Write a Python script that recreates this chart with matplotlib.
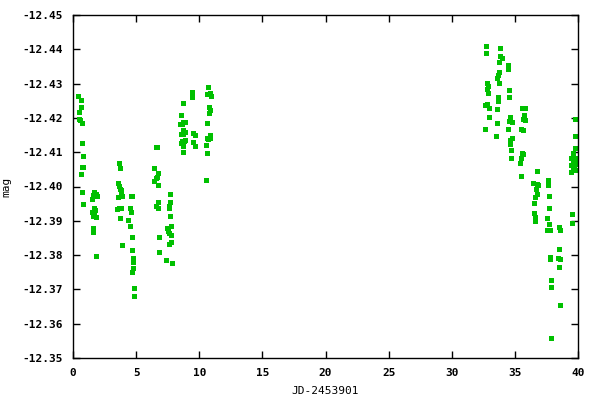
import matplotlib
matplotlib.use("Agg")
import matplotlib.pyplot as plt
from matplotlib.ticker import FormatStrFormatter, MultipleLocator

jd_night1 = [0.42, 0.60, 0.60, 0.47, 0.50, 0.55, 0.74, 0.74, 0.82, 0.69, 0.82, 0.63, 0.74, 0.82,
             1.70, 1.83, 1.60, 1.53, 1.87, 1.63, 1.77, 1.53, 1.70, 1.57, 1.80, 1.60, 1.57, 1.83]
mag_night1 = [-12.4264, -12.4252, -12.4231, -12.4216, -12.4197, -12.4194, -12.4184, -12.4126,
              -12.4088, -12.4056, -12.4056, -12.4036, -12.3983, -12.3948,
              -12.3983, -12.3978, -12.3975, -12.3964, -12.3972, -12.3937, -12.3932, -12.3927,
              -12.3924, -12.3914, -12.3910, -12.3878, -12.3867, -12.3797]

jd_night2 = [3.65, 3.73, 3.57, 3.65, 3.73, 3.83, 3.78, 3.57, 3.85, 3.68, 3.52, 3.83, 3.73, 3.88,
             4.59, 4.65, 4.51, 4.62, 4.38, 4.54, 4.70, 4.70, 4.78, 4.78, 4.78, 4.70, 4.86, 4.86]
mag_night2 = [-12.4068, -12.4053, -12.4011, -12.4001, -12.3994, -12.3990, -12.3980, -12.3970,
              -12.3972, -12.3936, -12.3935, -12.3936, -12.3907, -12.3829,
              -12.3972, -12.3973, -12.3936, -12.3927, -12.3901, -12.3884, -12.3852, -12.3814,
              -12.3792, -12.3780, -12.3763, -12.3750, -12.3703, -12.3680]

jd_night3 = [6.54, 6.62, 6.44, 6.76, 6.62, 6.54, 6.44, 6.76, 6.76, 6.60, 6.70, 6.84, 6.84,
             7.71, 7.71, 7.63, 7.60, 7.71, 7.79, 7.47, 7.55, 7.63, 7.79, 7.63, 7.79, 7.39, 7.87]
mag_night3 = [-12.4116, -12.4114, -12.4053, -12.4038, -12.4029, -12.4025, -12.4016, -12.4003,
              -12.3956, -12.3944, -12.3936, -12.3852, -12.3809,
              -12.3977, -12.3954, -12.3944, -12.3936, -12.3913, -12.3884, -12.3878, -12.3871,
              -12.3864, -12.3860, -12.3833, -12.3838, -12.3785, -12.3776]

jd_night4 = [8.74, 8.58, 8.69, 8.85, 8.45, 8.63, 8.74, 8.85, 8.53, 8.69, 8.85, 8.63, 8.79, 8.58,
             8.69, 8.74,
             9.45, 9.45, 9.53, 9.64, 9.53, 9.64]
mag_night4 = [-12.4243, -12.4208, -12.4189, -12.4189, -12.4182, -12.4182, -12.4165, -12.4160,
              -12.4153, -12.4153, -12.4136, -12.4132, -12.4132, -12.4126, -12.4119, -12.4100,
              -12.4275, -12.4262, -12.4157, -12.4150, -12.4129, -12.4118]

jd_night5 = [10.70, 10.59, 10.83, 10.93, 10.78, 10.86, 10.78, 10.64, 10.83, 10.59, 10.72, 10.83,
             10.54, 10.64, 10.54]
mag_night5 = [-12.4289, -12.4270, -12.4272, -12.4264, -12.4231, -12.4223, -12.4213, -12.4184,
              -12.4150, -12.4140, -12.4138, -12.4142, -12.4120, -12.4097, -12.4018]

jd_night6 = [32.69, 32.69, 32.75, 32.85, 32.77, 32.85, 32.75, 32.61, 32.93, 32.93, 32.61,
             33.85, 33.85, 33.96, 33.77, 33.77, 33.69, 33.59, 33.77, 33.69, 33.69, 33.59, 33.59,
             33.51]
mag_night6 = [-12.4410, -12.4388, -12.4303, -12.4293, -12.4283, -12.4272, -12.4241, -12.4238,
              -12.4228, -12.4202, -12.4167,
              -12.4403, -12.4380, -12.4376, -12.4364, -12.4333, -12.4325, -12.4315, -12.4303,
              -12.4262, -12.4248, -12.4225, -12.4184, -12.4146]

jd_night7 = [34.48, 34.48, 34.56, 34.56, 34.64, 34.56, 34.80, 34.48, 34.80, 34.64, 34.64,
             34.72, 34.72,
             35.56, 35.80, 35.72, 35.67, 35.83, 35.51, 35.67, 35.59, 35.67, 35.51, 35.43, 35.51]
mag_night7 = [-12.4354, -12.4344, -12.4281, -12.4260, -12.4202, -12.4192, -12.4187, -12.4167,
              -12.4141, -12.4136, -12.4124, -12.4107, -12.4082,
              -12.4228, -12.4228, -12.4208, -12.4198, -12.4194, -12.4167, -12.4164, -12.4097,
              -12.4094, -12.4082, -12.4068, -12.4032]

jd_night8 = [36.77, 36.46, 36.72, 36.80, 36.67, 36.77, 36.59, 36.54, 36.54, 36.62, 36.62,
             37.59, 37.59, 37.67, 37.67, 37.51, 37.67, 37.51, 37.75, 37.75, 37.75, 37.83, 37.83,
             37.83]
mag_night8 = [-12.4044, -12.4009, -12.4006, -12.4004, -12.3992, -12.3978, -12.3968, -12.3951,
              -12.3922, -12.3910, -12.3898,
              -12.4019, -12.4004, -12.3971, -12.3936, -12.3907, -12.3892, -12.3872, -12.3872,
              -12.3795, -12.3790, -12.3727, -12.3706, -12.3557]

jd_night9 = [38.52, 38.60, 38.52, 38.44, 38.60, 38.52, 38.60,
             39.79, 39.79, 39.72, 39.64, 39.79, 39.48, 39.72, 39.58, 39.79, 39.48, 39.66, 39.58,
             39.72, 39.48, 39.56, 39.56]
mag_night9 = [-12.3883, -12.3872, -12.3817, -12.3791, -12.3788, -12.3764, -12.3654,
              -12.4198, -12.4146, -12.4111, -12.4098, -12.4084, -12.4083, -12.4075, -12.4070,
              -12.4067, -12.4062, -12.4057, -12.4053, -12.4048, -12.4041, -12.3919, -12.3895]

jd = (jd_night1 + jd_night2 + jd_night3 + jd_night4 + jd_night5
      + jd_night6 + jd_night7 + jd_night8 + jd_night9)
mag = (mag_night1 + mag_night2 + mag_night3 + mag_night4 + mag_night5
       + mag_night6 + mag_night7 + mag_night8 + mag_night9)

plt.rcParams["font.family"] = "DejaVu Sans Mono"
plt.rcParams["font.weight"] = "bold"
plt.rcParams["font.size"] = 8

fig = plt.figure(figsize=(6, 4), dpi=100)
ax = fig.add_axes([0.1217, 0.105, 0.8417, 0.8575])
ax.plot(jd, mag, linestyle="none", marker="s", markersize=3.6,
        color="#00c000", markeredgewidth=0)

ax.set_xlim(0, 40)
ax.set_ylim(-12.35, -12.45)
ax.xaxis.set_major_locator(MultipleLocator(5))
ax.yaxis.set_major_locator(MultipleLocator(0.01))
ax.yaxis.set_major_formatter(FormatStrFormatter("%.2f"))
ax.tick_params(direction="in", length=5, width=1, top=True, right=True, pad=7)
for spine in ax.spines.values():
    spine.set_linewidth(1)

ax.set_xlabel("JD-2453901", labelpad=6)
ax.set_ylabel("mag")
ax.yaxis.set_label_coords(-0.122, 0.5)

fig.savefig("out.png")
